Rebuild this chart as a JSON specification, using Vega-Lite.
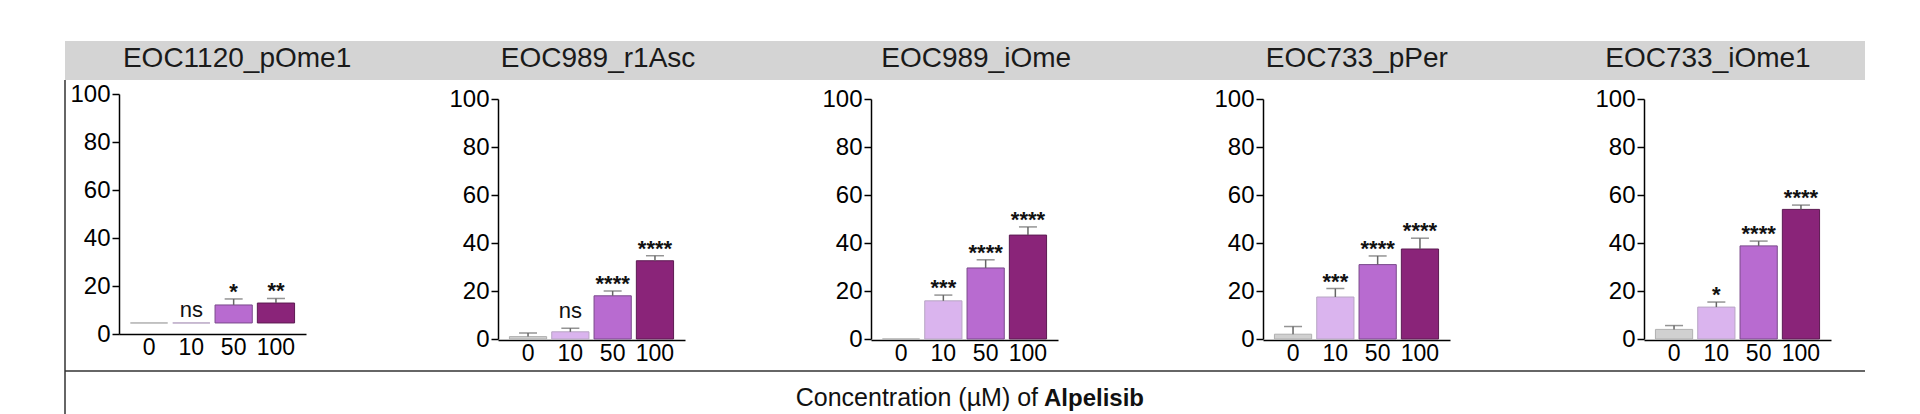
{
  "$schema": "https://vega.github.io/schema/vega-lite/v6.json",
  "background": "white",
  "padding": {"left": 64, "top": 40, "right": 56, "bottom": 0},
  "config": {"view": {"stroke": null}, "font": "Liberation Sans"},
  "datasets": {
    "d": [
      {"panel": "EOC1120_pOme1", "conc": "0", "low": 4.6, "mean": 4.6, "err": 4.6, "sig": ""},
      {"panel": "EOC1120_pOme1", "conc": "10", "low": 4.6, "mean": 4.6, "err": 4.6, "sig": "ns"},
      {"panel": "EOC1120_pOme1", "conc": "50", "low": 4.6, "mean": 12.1, "err": 14.6, "sig": "*"},
      {"panel": "EOC1120_pOme1", "conc": "100", "low": 4.6, "mean": 12.9, "err": 14.8, "sig": "**"},
      {"panel": "EOC989_r1Asc", "conc": "0", "low": 0, "mean": 1, "err": 2.5, "sig": ""},
      {"panel": "EOC989_r1Asc", "conc": "10", "low": 0, "mean": 3, "err": 4.5, "sig": "ns"},
      {"panel": "EOC989_r1Asc", "conc": "50", "low": 0, "mean": 18, "err": 20, "sig": "****"},
      {"panel": "EOC989_r1Asc", "conc": "100", "low": 0, "mean": 32.6, "err": 34.7, "sig": "****"},
      {"panel": "EOC989_iOme", "conc": "0", "low": 0, "mean": 0, "err": 0, "sig": ""},
      {"panel": "EOC989_iOme", "conc": "10", "low": 0, "mean": 15.9, "err": 18.3, "sig": "***"},
      {"panel": "EOC989_iOme", "conc": "50", "low": 0, "mean": 29.6, "err": 33, "sig": "****"},
      {"panel": "EOC989_iOme", "conc": "100", "low": 0, "mean": 43.3, "err": 46.7, "sig": "****"},
      {"panel": "EOC733_pPer", "conc": "0", "low": 0, "mean": 2, "err": 5.2, "sig": ""},
      {"panel": "EOC733_pPer", "conc": "10", "low": 0, "mean": 17.5, "err": 21, "sig": "***"},
      {"panel": "EOC733_pPer", "conc": "50", "low": 0, "mean": 31, "err": 34.6, "sig": "****"},
      {"panel": "EOC733_pPer", "conc": "100", "low": 0, "mean": 37.5, "err": 42, "sig": "****"},
      {"panel": "EOC733_iOme1", "conc": "0", "low": 0, "mean": 4, "err": 5.6, "sig": ""},
      {"panel": "EOC733_iOme1", "conc": "10", "low": 0, "mean": 13.3, "err": 15.4, "sig": "*"},
      {"panel": "EOC733_iOme1", "conc": "50", "low": 0, "mean": 38.8, "err": 40.8, "sig": "****"},
      {"panel": "EOC733_iOme1", "conc": "100", "low": 0, "mean": 54, "err": 55.8, "sig": "****"}
    ]
  },
  "data": {"name": "d"},
  "spacing": 0,
  "bounds": "flush",
  "hconcat": [
    {
      "width": 379, "height": 374,
      "transform": [{"filter": "datum.panel === 'EOC1120_pOme1'"}],
      "resolve": {"scale": {"x": "independent"}, "axis": {"x": "independent"}},
      "layer": [
        {"transform": [{"filter": "datum.conc === '0'"}], "mark": {"type": "rect", "color": "#d4d4d4"},
         "encoding": {"y": {"datum": 122.08, "type": "quantitative"}, "y2": {"datum": 105.83}}},
        {"transform": [{"filter": "datum.conc === '0'"}], "mark": {"type": "text", "fontSize": 28, "color": "#1a1a1a", "baseline": "alphabetic", "align": "center"},
         "encoding": {"x": {"datum": 0.454, "type": "quantitative", "scale": {"domain": [0, 1]}, "axis": null}, "y": {"datum": 111.25, "type": "quantitative"}, "text": {"field": "panel"}}},
        {"transform": [{"filter": "datum.conc === '0'"}], "mark": {"type": "rule", "color": "#333", "strokeWidth": 1.5},
         "encoding": {"x": {"datum": 0, "type": "quantitative", "scale": {"domain": [0, 1]}, "axis": null}, "y": {"datum": 105.83, "type": "quantitative"}, "y2": {"datum": -33.75}}},
        {"transform": [{"filter": "datum.conc === '0'"}], "mark": {"type": "rule", "color": "#333", "strokeWidth": 1.5},
         "encoding": {"y": {"datum": -15.42, "type": "quantitative"}}},
        {
          "encoding": {
            "x": {"field": "conc", "type": "ordinal", "sort": ["0", "10", "50", "100"],
                  "scale": {"range": [54, 241], "paddingInner": 0.12, "paddingOuter": 0.27},
                  "axis": {"orient": "bottom", "offset": -81, "title": null, "ticks": false, "labelAngle": 0, "labelFontSize": 23, "labelColor": "#000", "labelPadding": 2, "domainColor": "#000", "domainWidth": 1.5}}
          },
          "layer": [
            {"mark": {"type": "bar", "strokeWidth": 1},
             "encoding": {
               "y": {"field": "mean", "type": "quantitative", "scale": {"domain": [0, 100], "range": [293, 53], "nice": false, "zero": false},
                     "axis": {"orient": "left", "offset": -54, "values": [0, 20, 40, 60, 80, 100], "title": null, "grid": false, "labelFontSize": 24, "labelColor": "#000", "labelPadding": 2, "tickSize": 7, "tickColor": "#000", "tickWidth": 1.5, "domainColor": "#000", "domainWidth": 1.5}},
               "y2": {"field": "low"},
               "color": {"field": "conc", "type": "ordinal", "scale": {"domain": ["0", "10", "50", "100"], "range": ["#d0d0d0", "#dab4ee", "#b86bd0", "#8a2479"]}, "legend": null},
               "stroke": {"field": "conc", "type": "ordinal", "scale": {"domain": ["0", "10", "50", "100"], "range": ["#b0b0b0", "#b8a6c4", "#7a4a8c", "#5c1a52"]}, "legend": null}
             }},
            {"transform": [{"filter": "datum.err > datum.mean"}], "mark": {"type": "rule", "color": "#666", "strokeWidth": 1.5},
             "encoding": {"y": {"field": "mean", "type": "quantitative"}, "y2": {"field": "err"}}},
            {"transform": [{"filter": "datum.err > datum.mean"}], "mark": {"type": "tick", "orient": "horizontal", "color": "#666", "size": 18, "thickness": 1.5},
             "encoding": {"y": {"field": "err", "type": "quantitative"}}},
            {"transform": [{"filter": "datum.sig !== '' && datum.sig !== 'ns'"}], "mark": {"type": "text", "fontSize": 22, "fontWeight": "bold", "color": "#111", "baseline": "alphabetic", "dy": 0},
             "encoding": {"y": {"field": "err", "type": "quantitative"}, "text": {"field": "sig"}}},
            {"transform": [{"filter": "datum.sig === 'ns'"}], "mark": {"type": "text", "fontSize": 22, "color": "#111", "baseline": "alphabetic", "dy": -6},
             "encoding": {"y": {"field": "err", "type": "quantitative"}, "text": {"field": "sig"}}}
          ]
        }
      ]
    },
    {
      "width": 373, "height": 374,
      "transform": [{"filter": "datum.panel === 'EOC989_r1Asc'"}],
      "resolve": {"scale": {"x": "independent"}, "axis": {"x": "independent"}},
      "layer": [
        {"transform": [{"filter": "datum.conc === '0'"}], "mark": {"type": "rect", "color": "#d4d4d4"},
         "encoding": {"y": {"datum": 124.17, "type": "quantitative"}, "y2": {"datum": 107.92}}},
        {"transform": [{"filter": "datum.conc === '0'"}], "mark": {"type": "text", "fontSize": 28, "color": "#1a1a1a", "baseline": "alphabetic", "align": "center"},
         "encoding": {"x": {"datum": 0.413, "type": "quantitative", "scale": {"domain": [0, 1]}, "axis": null}, "y": {"datum": 113.33, "type": "quantitative"}, "text": {"field": "panel"}}},
        {"transform": [{"filter": "datum.conc === '0'"}], "mark": {"type": "rule", "color": "#333", "strokeWidth": 1.5},
         "encoding": {"y": {"datum": -13.33, "type": "quantitative"}}},
        {
          "encoding": {
            "x": {"field": "conc", "type": "ordinal", "sort": ["0", "10", "50", "100"],
                  "scale": {"range": [54, 241], "paddingInner": 0.12, "paddingOuter": 0.27},
                  "axis": {"orient": "bottom", "offset": -75, "title": null, "ticks": false, "labelAngle": 0, "labelFontSize": 23, "labelColor": "#000", "labelPadding": 2, "domainColor": "#000", "domainWidth": 1.5}}
          },
          "layer": [
            {"mark": {"type": "bar", "strokeWidth": 1},
             "encoding": {
               "y": {"field": "mean", "type": "quantitative", "scale": {"domain": [0, 100], "range": [298, 58], "nice": false, "zero": false},
                     "axis": {"orient": "left", "offset": -54, "values": [0, 20, 40, 60, 80, 100], "title": null, "grid": false, "labelFontSize": 24, "labelColor": "#000", "labelPadding": 2, "tickSize": 7, "tickColor": "#000", "tickWidth": 1.5, "domainColor": "#000", "domainWidth": 1.5}},
               "y2": {"field": "low"},
               "color": {"field": "conc", "type": "ordinal", "scale": {"domain": ["0", "10", "50", "100"], "range": ["#d0d0d0", "#dab4ee", "#b86bd0", "#8a2479"]}, "legend": null},
               "stroke": {"field": "conc", "type": "ordinal", "scale": {"domain": ["0", "10", "50", "100"], "range": ["#b0b0b0", "#9a78ab", "#7a4a8c", "#5c1a52"]}, "legend": null}
             }},
            {"transform": [{"filter": "datum.err > datum.mean"}], "mark": {"type": "rule", "color": "#666", "strokeWidth": 1.5},
             "encoding": {"y": {"field": "mean", "type": "quantitative"}, "y2": {"field": "err"}}},
            {"transform": [{"filter": "datum.err > datum.mean"}], "mark": {"type": "tick", "orient": "horizontal", "color": "#666", "size": 18, "thickness": 1.5},
             "encoding": {"y": {"field": "err", "type": "quantitative"}}},
            {"transform": [{"filter": "datum.sig !== '' && datum.sig !== 'ns'"}], "mark": {"type": "text", "fontSize": 22, "fontWeight": "bold", "color": "#111", "baseline": "alphabetic", "dy": 0},
             "encoding": {"y": {"field": "err", "type": "quantitative"}, "text": {"field": "sig"}}},
            {"transform": [{"filter": "datum.sig === 'ns'"}], "mark": {"type": "text", "fontSize": 22, "color": "#111", "baseline": "alphabetic", "dy": -10},
             "encoding": {"y": {"field": "err", "type": "quantitative"}, "text": {"field": "sig"}}}
          ]
        }
      ]
    },
    {
      "width": 392, "height": 374,
      "transform": [{"filter": "datum.panel === 'EOC989_iOme'"}],
      "resolve": {"scale": {"x": "independent"}, "axis": {"x": "independent"}},
      "layer": [
        {"transform": [{"filter": "datum.conc === '0'"}], "mark": {"type": "rect", "color": "#d4d4d4"},
         "encoding": {"y": {"datum": 124.17, "type": "quantitative"}, "y2": {"datum": 107.92}}},
        {"transform": [{"filter": "datum.conc === '0'"}], "mark": {"type": "text", "fontSize": 28, "color": "#1a1a1a", "baseline": "alphabetic", "align": "center"},
         "encoding": {"x": {"datum": 0.406, "type": "quantitative", "scale": {"domain": [0, 1]}, "axis": null}, "y": {"datum": 113.33, "type": "quantitative"}, "text": {"field": "panel"}}},
        {"transform": [{"filter": "datum.conc === '0'"}], "mark": {"type": "rule", "color": "#333", "strokeWidth": 1.5},
         "encoding": {"y": {"datum": -13.33, "type": "quantitative"}}},
        {"transform": [{"filter": "datum.conc === '0'"}], "mark": {"type": "text", "fontSize": 25, "color": "#111", "baseline": "alphabetic", "align": "right"},
         "encoding": {"x": {"datum": 0.5638, "type": "quantitative", "scale": {"domain": [0, 1]}, "axis": null}, "y": {"datum": -27.92, "type": "quantitative"}, "text": {"value": "Concentration (µM) of"}}},
        {"transform": [{"filter": "datum.conc === '0'"}], "mark": {"type": "text", "font": "Liberation Sans Narrow, Arial Narrow, Liberation Sans", "fontSize": 24, "fontWeight": "bold", "color": "#111", "baseline": "alphabetic", "align": "left"},
         "encoding": {"x": {"datum": 0.579, "type": "quantitative", "scale": {"domain": [0, 1]}, "axis": null}, "y": {"datum": -27.92, "type": "quantitative"}, "text": {"value": "Alpelisib"}}},
        {
          "encoding": {
            "x": {"field": "conc", "type": "ordinal", "sort": ["0", "10", "50", "100"],
                  "scale": {"range": [54, 241], "paddingInner": 0.12, "paddingOuter": 0.27},
                  "axis": {"orient": "bottom", "offset": -75, "title": null, "ticks": false, "labelAngle": 0, "labelFontSize": 23, "labelColor": "#000", "labelPadding": 2, "domainColor": "#000", "domainWidth": 1.5}}
          },
          "layer": [
            {"mark": {"type": "bar", "strokeWidth": 1},
             "encoding": {
               "y": {"field": "mean", "type": "quantitative", "scale": {"domain": [0, 100], "range": [298, 58], "nice": false, "zero": false},
                     "axis": {"orient": "left", "offset": -54, "values": [0, 20, 40, 60, 80, 100], "title": null, "grid": false, "labelFontSize": 24, "labelColor": "#000", "labelPadding": 2, "tickSize": 7, "tickColor": "#000", "tickWidth": 1.5, "domainColor": "#000", "domainWidth": 1.5}},
               "y2": {"field": "low"},
               "color": {"field": "conc", "type": "ordinal", "scale": {"domain": ["0", "10", "50", "100"], "range": ["#d0d0d0", "#dab4ee", "#b86bd0", "#8a2479"]}, "legend": null},
               "stroke": {"field": "conc", "type": "ordinal", "scale": {"domain": ["0", "10", "50", "100"], "range": ["#c8c8c8", "#9a78ab", "#7a4a8c", "#5c1a52"]}, "legend": null}
             }},
            {"transform": [{"filter": "datum.err > datum.mean"}], "mark": {"type": "rule", "color": "#666", "strokeWidth": 1.5},
             "encoding": {"y": {"field": "mean", "type": "quantitative"}, "y2": {"field": "err"}}},
            {"transform": [{"filter": "datum.err > datum.mean"}], "mark": {"type": "tick", "orient": "horizontal", "color": "#666", "size": 18, "thickness": 1.5},
             "encoding": {"y": {"field": "err", "type": "quantitative"}}},
            {"transform": [{"filter": "datum.sig !== '' && datum.sig !== 'ns'"}], "mark": {"type": "text", "fontSize": 22, "fontWeight": "bold", "color": "#111", "baseline": "alphabetic", "dy": 0},
             "encoding": {"y": {"field": "err", "type": "quantitative"}, "text": {"field": "sig"}}}
          ]
        }
      ]
    },
    {
      "width": 381, "height": 374,
      "transform": [{"filter": "datum.panel === 'EOC733_pPer'"}],
      "resolve": {"scale": {"x": "independent"}, "axis": {"x": "independent"}},
      "layer": [
        {"transform": [{"filter": "datum.conc === '0'"}], "mark": {"type": "rect", "color": "#d4d4d4"},
         "encoding": {"y": {"datum": 124.17, "type": "quantitative"}, "y2": {"datum": 107.92}}},
        {"transform": [{"filter": "datum.conc === '0'"}], "mark": {"type": "text", "fontSize": 28, "color": "#1a1a1a", "baseline": "alphabetic", "align": "center"},
         "encoding": {"x": {"datum": 0.388, "type": "quantitative", "scale": {"domain": [0, 1]}, "axis": null}, "y": {"datum": 113.33, "type": "quantitative"}, "text": {"field": "panel"}}},
        {"transform": [{"filter": "datum.conc === '0'"}], "mark": {"type": "rule", "color": "#333", "strokeWidth": 1.5},
         "encoding": {"y": {"datum": -13.33, "type": "quantitative"}}},
        {
          "encoding": {
            "x": {"field": "conc", "type": "ordinal", "sort": ["0", "10", "50", "100"],
                  "scale": {"range": [54, 241], "paddingInner": 0.12, "paddingOuter": 0.27},
                  "axis": {"orient": "bottom", "offset": -75, "title": null, "ticks": false, "labelAngle": 0, "labelFontSize": 23, "labelColor": "#000", "labelPadding": 2, "domainColor": "#000", "domainWidth": 1.5}}
          },
          "layer": [
            {"mark": {"type": "bar", "strokeWidth": 1},
             "encoding": {
               "y": {"field": "mean", "type": "quantitative", "scale": {"domain": [0, 100], "range": [298, 58], "nice": false, "zero": false},
                     "axis": {"orient": "left", "offset": -54, "values": [0, 20, 40, 60, 80, 100], "title": null, "grid": false, "labelFontSize": 24, "labelColor": "#000", "labelPadding": 2, "tickSize": 7, "tickColor": "#000", "tickWidth": 1.5, "domainColor": "#000", "domainWidth": 1.5}},
               "y2": {"field": "low"},
               "color": {"field": "conc", "type": "ordinal", "scale": {"domain": ["0", "10", "50", "100"], "range": ["#d0d0d0", "#dab4ee", "#b86bd0", "#8a2479"]}, "legend": null},
               "stroke": {"field": "conc", "type": "ordinal", "scale": {"domain": ["0", "10", "50", "100"], "range": ["#b0b0b0", "#9a78ab", "#7a4a8c", "#5c1a52"]}, "legend": null}
             }},
            {"transform": [{"filter": "datum.err > datum.mean"}], "mark": {"type": "rule", "color": "#666", "strokeWidth": 1.5},
             "encoding": {"y": {"field": "mean", "type": "quantitative"}, "y2": {"field": "err"}}},
            {"transform": [{"filter": "datum.err > datum.mean"}], "mark": {"type": "tick", "orient": "horizontal", "color": "#666", "size": 18, "thickness": 1.5},
             "encoding": {"y": {"field": "err", "type": "quantitative"}}},
            {"transform": [{"filter": "datum.sig !== '' && datum.sig !== 'ns'"}], "mark": {"type": "text", "fontSize": 22, "fontWeight": "bold", "color": "#111", "baseline": "alphabetic", "dy": 0},
             "encoding": {"y": {"field": "err", "type": "quantitative"}, "text": {"field": "sig"}}}
          ]
        }
      ]
    },
    {
      "width": 275, "height": 374,
      "transform": [{"filter": "datum.panel === 'EOC733_iOme1'"}],
      "resolve": {"scale": {"x": "independent"}, "axis": {"x": "independent"}},
      "layer": [
        {"transform": [{"filter": "datum.conc === '0'"}], "mark": {"type": "rect", "color": "#d4d4d4"},
         "encoding": {"y": {"datum": 124.17, "type": "quantitative"}, "y2": {"datum": 107.92}}},
        {"transform": [{"filter": "datum.conc === '0'"}], "mark": {"type": "text", "fontSize": 28, "color": "#1a1a1a", "baseline": "alphabetic", "align": "center"},
         "encoding": {"x": {"datum": 0.429, "type": "quantitative", "scale": {"domain": [0, 1]}, "axis": null}, "y": {"datum": 113.33, "type": "quantitative"}, "text": {"field": "panel"}}},
        {"transform": [{"filter": "datum.conc === '0'"}], "mark": {"type": "rule", "color": "#333", "strokeWidth": 1.5},
         "encoding": {"y": {"datum": -13.33, "type": "quantitative"}}},
        {
          "encoding": {
            "x": {"field": "conc", "type": "ordinal", "sort": ["0", "10", "50", "100"],
                  "scale": {"range": [54, 241], "paddingInner": 0.12, "paddingOuter": 0.27},
                  "axis": {"orient": "bottom", "offset": -75, "title": null, "ticks": false, "labelAngle": 0, "labelFontSize": 23, "labelColor": "#000", "labelPadding": 2, "domainColor": "#000", "domainWidth": 1.5}}
          },
          "layer": [
            {"mark": {"type": "bar", "strokeWidth": 1},
             "encoding": {
               "y": {"field": "mean", "type": "quantitative", "scale": {"domain": [0, 100], "range": [298, 58], "nice": false, "zero": false},
                     "axis": {"orient": "left", "offset": -54, "values": [0, 20, 40, 60, 80, 100], "title": null, "grid": false, "labelFontSize": 24, "labelColor": "#000", "labelPadding": 2, "tickSize": 7, "tickColor": "#000", "tickWidth": 1.5, "domainColor": "#000", "domainWidth": 1.5}},
               "y2": {"field": "low"},
               "color": {"field": "conc", "type": "ordinal", "scale": {"domain": ["0", "10", "50", "100"], "range": ["#c4c4c4", "#dab4ee", "#b86bd0", "#8a2479"]}, "legend": null},
               "stroke": {"field": "conc", "type": "ordinal", "scale": {"domain": ["0", "10", "50", "100"], "range": ["#888888", "#9a78ab", "#7a4a8c", "#5c1a52"]}, "legend": null}
             }},
            {"transform": [{"filter": "datum.err > datum.mean"}], "mark": {"type": "rule", "color": "#666", "strokeWidth": 1.5},
             "encoding": {"y": {"field": "mean", "type": "quantitative"}, "y2": {"field": "err"}}},
            {"transform": [{"filter": "datum.err > datum.mean"}], "mark": {"type": "tick", "orient": "horizontal", "color": "#666", "size": 18, "thickness": 1.5},
             "encoding": {"y": {"field": "err", "type": "quantitative"}}},
            {"transform": [{"filter": "datum.sig !== '' && datum.sig !== 'ns'"}], "mark": {"type": "text", "fontSize": 22, "fontWeight": "bold", "color": "#111", "baseline": "alphabetic", "dy": 0},
             "encoding": {"y": {"field": "err", "type": "quantitative"}, "text": {"field": "sig"}}}
          ]
        }
      ]
    }
  ]
}
